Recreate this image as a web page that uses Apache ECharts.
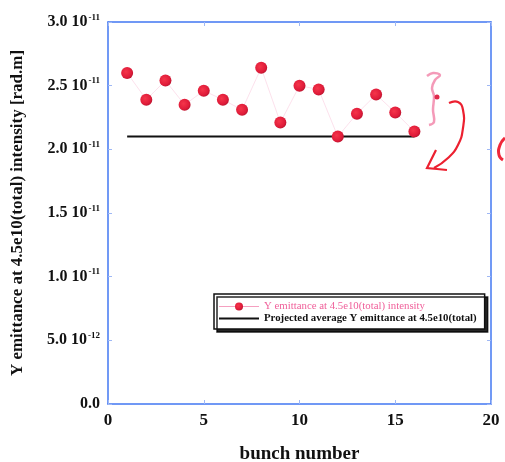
<!DOCTYPE html>
<html>
<head>
<meta charset="utf-8">
<style>
  html, body { margin: 0; padding: 0; background: #fff; }
  #chart { width: 505px; height: 462px; }
</style>
<script src="https://cdn.jsdelivr.net/npm/echarts@6/dist/echarts.min.js"></script>
</head>
<body>
<div id="chart"></div>
<script>
// Bunch-by-bunch vertical emittance, values in units of 1e-11 rad.m
const bunches = [1, 2, 3, 4, 5, 6, 7, 8, 9, 10, 11, 12, 13, 14, 15, 16];
const emittance = [2.60, 2.39, 2.54, 2.35, 2.46, 2.39, 2.31, 2.64, 2.21, 2.50, 2.47, 2.10, 2.28, 2.43, 2.29, 2.14];

// Projected average, drawn across the bunch train
const avgBunches = [1, 16];
const avgEmittance = [2.1, 2.1];

// Y tick labels: [mantissa, exponent]
const yTickLabels = [
  ['0.0', ''],
  ['5.0 10', '-12'],
  ['1.0 10', '-11'],
  ['1.5 10', '-11'],
  ['2.0 10', '-11'],
  ['2.5 10', '-11'],
  ['3.0 10', '-11']
];
const xTicks = [0, 5, 10, 15, 20];

const seriesNames = [
  'Y emittance at 4.5e10(total) intensity',
  'Projected average Y emittance at 4.5e10(total)'
];

const serif = '"Liberation Serif", "DejaVu Serif", serif';
const axisBlue = '#4277f2';
const tickBlue = '#9fb8f5';

const chart = echarts.init(document.getElementById('chart'));

const yLabel = {
  fontFamily: serif,
  fontWeight: 'bold',
  color: '#111',
  margin: 8,
  formatter: function (v) {
    const i = Math.round(v / 0.5);
    const t = yTickLabels[i];
    if (!t) return '';
    return t[1] ? '{m|' + t[0] + '}{e|' + t[1] + '}' : '{m|' + t[0] + '}';
  },
  rich: {
    m: { fontFamily: serif, fontWeight: 'bold', fontSize: 16, color: '#111', lineHeight: 18 },
    e: { fontFamily: serif, fontWeight: 'bold', fontSize: 9, color: '#111', verticalAlign: 'top', lineHeight: 18, padding: [0, 0, 0, 1] }
  }
};

function frameAxisLine() {
  return { show: true, onZero: false, lineStyle: { color: axisBlue, width: 1.5 } };
}
function frameTick() {
  return { show: true, inside: true, length: 4, lineStyle: { color: tickBlue } };
}

chart.setOption({
  animation: false,
  backgroundColor: '#fff',
  grid: { left: 108, right: 14, top: 22, bottom: 58, containLabel: false, outerBoundsMode: 'none' },
  legend: {
    orient: 'vertical',
    left: 214,
    top: 294,
    padding: [7, 8, 5, 4],
    itemGap: 1,
    itemWidth: 40,
    itemHeight: 10,
    backgroundColor: '#fff',
    borderColor: '#111',
    borderWidth: 1.5,
    shadowColor: 'rgba(0,0,0,0.85)',
    shadowBlur: 0,
    shadowOffsetX: 3,
    shadowOffsetY: 3,
    textStyle: { fontFamily: serif, fontSize: 10.8 },
    data: [
      {
        name: seriesNames[0],
        textStyle: { color: '#f0609a' },
        lineStyle: { color: '#f5a0c0', width: 1 }
      },
      {
        name: seriesNames[1],
        textStyle: { color: '#111', fontWeight: 'bold' },
        itemStyle: { opacity: 0 },
        lineStyle: { color: '#111', width: 2 }
      }
    ]
  },
  xAxis: [
    {
      type: 'value', min: 0, max: 20, interval: 5, position: 'bottom',
      axisLine: frameAxisLine(),
      axisTick: frameTick(),
      splitLine: { show: false },
      axisLabel: {
        fontFamily: serif, fontWeight: 'bold', fontSize: 17, color: '#111', margin: 8,
        formatter: function (v) { return xTicks.indexOf(v) >= 0 ? String(v) : ''; }
      },
      name: 'bunch number',
      nameLocation: 'middle',
      nameGap: 41,
      nameTextStyle: { fontFamily: serif, fontWeight: 'bold', fontSize: 19, color: '#111' }
    },
    {
      type: 'value', min: 0, max: 20, interval: 5, position: 'top',
      axisLine: frameAxisLine(),
      axisTick: frameTick(),
      axisLabel: { show: false },
      splitLine: { show: false }
    }
  ],
  yAxis: [
    {
      type: 'value', min: 0, max: 3, interval: 0.5, position: 'left',
      axisLine: frameAxisLine(),
      axisTick: frameTick(),
      splitLine: { show: false },
      axisLabel: yLabel,
      name: 'Y emittance at 4.5e10(total) intensity [rad.m]',
      nameLocation: 'middle',
      nameGap: 82,
      nameTextStyle: { fontFamily: serif, fontWeight: 'bold', fontSize: 17, color: '#111' }
    },
    {
      type: 'value', min: 0, max: 3, interval: 0.5, position: 'right',
      axisLine: frameAxisLine(),
      axisTick: frameTick(),
      axisLabel: { show: false },
      splitLine: { show: false }
    }
  ],
  series: [
    {
      name: seriesNames[0],
      type: 'line',
      xAxisIndex: 0, yAxisIndex: 0,
      data: bunches.map(function (b, i) { return [b, emittance[i]]; }),
      symbol: 'circle',
      symbolSize: 12,
      lineStyle: { color: 'rgba(245,170,200,0.35)', width: 1 },
      itemStyle: {
        color: new echarts.graphic.RadialGradient(0.4, 0.4, 0.65, [
          { offset: 0, color: '#f5354a' },
          { offset: 0.7, color: '#e01c3a' },
          { offset: 1, color: '#b8142e' }
        ]),
        borderWidth: 0
      },
      z: 3
    },
    {
      name: seriesNames[1],
      type: 'line',
      xAxisIndex: 0, yAxisIndex: 0,
      data: avgBunches.map(function (b, i) { return [b, avgEmittance[i]]; }),
      symbol: 'none',
      lineStyle: { color: '#111', width: 2 },
      itemStyle: { color: '#111' },
      z: 2
    }
  ],
  // Hand-drawn marker annotations beside the last bunches
  graphic: [
    {
      type: 'polyline', silent: true,
      shape: { points: [[427, 76], [433, 73], [440, 75], [435, 80], [432, 88], [434, 96], [433, 110], [434, 122], [429, 125]], smooth: 0.4 },
      style: { stroke: 'rgba(240,120,160,0.75)', lineWidth: 2.5, fill: null }
    },
    {
      type: 'circle', silent: true,
      shape: { cx: 437, cy: 97, r: 2.5 },
      style: { fill: '#e0284a' }
    },
    {
      type: 'polyline', silent: true,
      shape: { points: [[449, 103], [458, 102], [463, 110], [463, 128], [458, 145], [448, 158], [434, 168]], smooth: 0.5 },
      style: { stroke: '#ec2030', lineWidth: 2.2, fill: null }
    },
    {
      type: 'polyline', silent: true,
      shape: { points: [[436, 150], [431, 160], [427, 168], [437, 169], [447, 170]] },
      style: { stroke: '#ec2030', lineWidth: 2.2, fill: null }
    },
    {
      type: 'polyline', silent: true,
      shape: { points: [[505, 138], [500, 145], [499, 155], [503, 160]], smooth: 0.5 },
      style: { stroke: '#f0283a', lineWidth: 3, fill: null }
    }
  ]
});
</script>
</body>
</html>
